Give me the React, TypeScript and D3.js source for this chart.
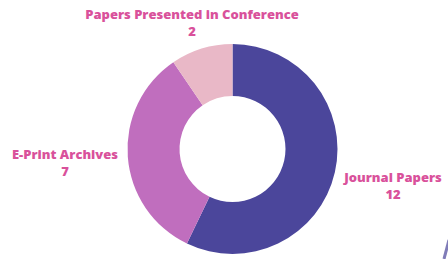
import React from 'react';
import * as d3 from 'd3';

const categories = ['Journal Papers', 'E-Print Archives', 'Papers Presented in Conference'];
const values = [12, 7, 2];
const colors = ['#4b469b', '#c06ebe', '#e9b8c7'];

const width = 448;
const height = 259;
const cx = 232.5;
const cy = 149;
const outerR = 105;
const innerR = 53;

// label anchor points (baseline of first line)
const labelPos = [
  { x: 393, y: 182 },
  { x: 65, y: 159 },
  { x: 192, y: 19 },
];

const App = () => {
  const pie = d3
    .pie<number>()
    .sort(null)
    .value((d) => d);
  const arcs = pie(values);
  const arc = d3.arc<d3.PieArcDatum<number>>().innerRadius(innerR).outerRadius(outerR);

  return (
    <svg
      width={width}
      height={height}
      style={{ position: 'absolute', left: 0, top: 0, background: '#fff' }}
    >
      <g transform={`translate(${cx},${cy})`}>
        {arcs.map((a, i) => (
          <path key={i} d={arc(a) || ''} fill={colors[i]} />
        ))}
      </g>
      {categories.map((c, i) => (
        <text
          key={c}
          x={labelPos[i].x}
          textAnchor="middle"
          fill="#d9519b"
          fontFamily="'Open Sans', sans-serif"
          fontWeight={800}
          fontSize={13}
        >
          <tspan x={labelPos[i].x} y={labelPos[i].y}>
            {c}
          </tspan>
          <tspan x={labelPos[i].x} y={labelPos[i].y + 17}>
            {values[i]}
          </tspan>
        </text>
      ))}
      <path d="M449,240 L444,259" stroke="#4b469b" strokeWidth={3} opacity={0.7} />
    </svg>
  );
};

export default App;
